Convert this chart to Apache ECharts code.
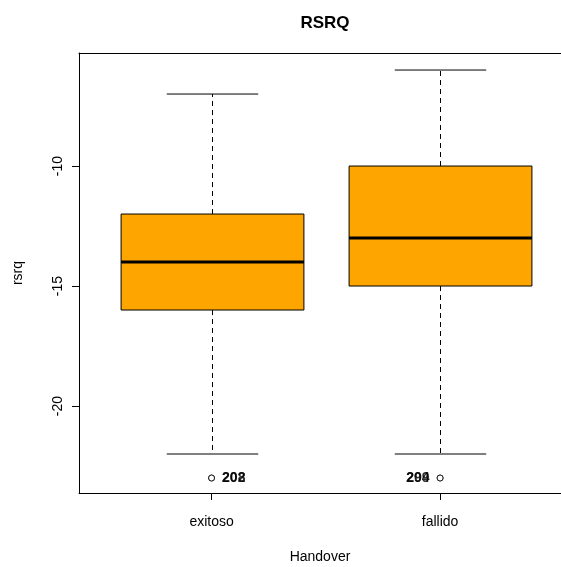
<!DOCTYPE html>
<html>
<head>
<meta charset="utf-8">
<title>RSRQ</title>
<script src="https://cdn.jsdelivr.net/npm/echarts@6/dist/echarts.min.js"></script>
<style>
  html, body { margin: 0; padding: 0; background: #fff; }
  #chart { width: 561px; height: 567px; }
</style>
</head>
<body>
<div id="chart"></div>
<script>
// Box summaries per handover outcome
const categories = ['exitoso', 'fallido'];
const lowerWhisker = [-22, -22];
const q1 = [-16, -15];
const median = [-14, -13];
const q3 = [-12, -10];
const upperWhisker = [-7, -6];

// Outlying points: [category index, rsrq, row label]
const outliers = [
  [0, -23, '208'],
  [0, -23, '202'],
  [1, -23, '209'],
  [1, -23, '294']
];

const yTicks = [-20, -15, -10];

const FONT = 'Liberation Sans, Arial, sans-serif';

const boxData = categories.map((c, i) => [i + 1, lowerWhisker[i], q1[i], median[i], q3[i], upperWhisker[i]]);

function renderBox(params, api) {
  const x = api.value(0);
  const lo = api.coord([x, api.value(1)]);
  const b1 = api.coord([x, api.value(2)]);
  const md = api.coord([x, api.value(3)]);
  const b3 = api.coord([x, api.value(4)]);
  const hi = api.coord([x, api.value(5)]);
  const boxW = api.size([0.8, 0])[0];
  const capW = api.size([0.4, 0])[0];
  const cx = Math.round(lo[0]) + 0.5;
  const dashed = { stroke: '#000', lineWidth: 1, lineDash: [5, 4] };
  const solid = { stroke: '#000', lineWidth: 1 };
  return {
    type: 'group',
    children: [
      { type: 'line', shape: { x1: cx, y1: b3[1], x2: cx, y2: hi[1] }, style: dashed },
      { type: 'line', shape: { x1: cx, y1: b1[1], x2: cx, y2: lo[1] }, style: dashed },
      { type: 'line', shape: { x1: cx - capW / 2, y1: hi[1], x2: cx + capW / 2, y2: hi[1] }, style: solid },
      { type: 'line', shape: { x1: cx - capW / 2, y1: lo[1], x2: cx + capW / 2, y2: lo[1] }, style: solid },
      { type: 'rect', shape: { x: cx - boxW / 2, y: b3[1], width: boxW, height: b1[1] - b3[1] },
        style: { fill: '#FFA500', stroke: '#000', lineWidth: 1 } },
      { type: 'line', shape: { x1: cx - boxW / 2, y1: md[1], x2: cx + boxW / 2, y2: md[1] },
        style: { stroke: '#000', lineWidth: 3 } }
    ]
  };
}

const chart = echarts.init(document.getElementById('chart'), null, { renderer: 'canvas' });

const frameLine = { show: true, lineStyle: { color: '#000', width: 1 } };

chart.setOption({
  animation: false,
  backgroundColor: '#fff',
  title: {
    text: 'RSRQ',
    left: 320,
    textAlign: 'center',
    top: 10,
    textStyle: { fontFamily: FONT, fontSize: 17, fontWeight: 'bold', color: '#000' }
  },
  grid: {
    left: 79, right: 0, top: 53, bottom: 74, show: false,
    outerBoundsMode: 'none', containLabel: false
  },
  xAxis: [
    {
      type: 'value',
      min: 0.42, max: 2.529,
      position: 'bottom',
      name: 'Handover',
      nameLocation: 'middle',
      nameGap: 57,
      nameTextStyle: { fontFamily: FONT, fontSize: 14, color: '#000' },
      axisLine: frameLine,
      splitLine: { show: false },
      axisTick: { show: true, inside: false, length: 7, customValues: [1, 2], lineStyle: { color: '#000' } },
      axisLabel: {
        customValues: [1, 2],
        margin: 22,
        fontFamily: FONT, fontSize: 14, color: '#000',
        formatter: v => categories[Math.round(v) - 1] || ''
      }
    },
    {
      // top edge of the plot frame
      type: 'value',
      min: 0.42, max: 2.529,
      position: 'top',
      axisLine: frameLine,
      axisTick: { show: false },
      axisLabel: { show: false },
      splitLine: { show: false }
    }
  ],
  yAxis: {
    type: 'value',
    min: -23.625, max: -5.29,
    name: 'rsrq',
    nameLocation: 'middle',
    nameGap: 54,
    nameRotate: 90,
    nameTextStyle: { fontFamily: FONT, fontSize: 14, color: '#000' },
    axisLine: frameLine,
    splitLine: { show: false },
    axisTick: { show: true, inside: false, length: 7, customValues: yTicks, lineStyle: { color: '#000' } },
    axisLabel: {
      customValues: yTicks,
      rotate: 90,
      margin: 14,
      fontFamily: FONT, fontSize: 14, color: '#000'
    }
  },
  series: [
    {
      type: 'custom',
      renderItem: renderBox,
      data: boxData,
      encode: { x: 0, y: [1, 2, 3, 4, 5] },
      z: 2
    },
    {
      type: 'scatter',
      symbol: 'circle',
      symbolSize: 6,
      itemStyle: { color: '#fff', borderColor: '#000', borderWidth: 1 },
      data: outliers.map(o => ({
        value: [o[0] + 1, o[1]],
        name: o[2],
        label: {
          show: true,
          position: o[0] === 0 ? 'right' : 'left',
          distance: 7,
          formatter: o[2],
          fontFamily: FONT, fontSize: 14, fontWeight: 'bold', color: '#000'
        }
      })),
      z: 3
    }
  ]
});
</script>
</body>
</html>
